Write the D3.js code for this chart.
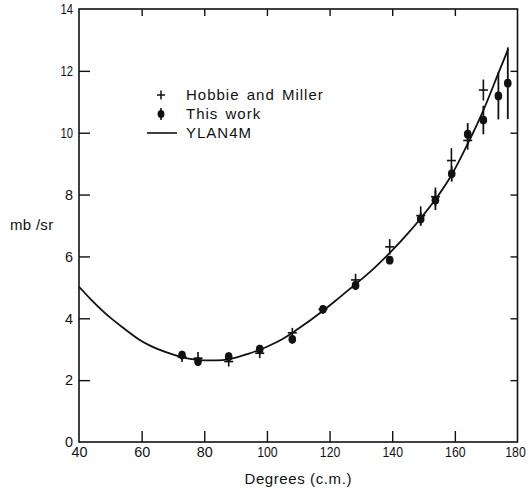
<!DOCTYPE html>
<html>
<head>
<meta charset="utf-8">
<script src="https://cdn.jsdelivr.net/npm/d3@7/dist/d3.min.js"></script>
<style>
  html, body { margin: 0; padding: 0; background: #fff; }
  svg { display: block; }
  text { font-family: "Liberation Sans", Arial, sans-serif; fill: #111; }
</style>
</head>
<body>
<svg id="chart" width="528" height="491"></svg>
<script>
// Differential cross section vs. c.m. angle
const xTicks = [40, 60, 80, 100, 120, 140, 160, 180];
const yTicks = [0, 2, 4, 6, 8, 10, 12, 14];

// This work (filled points with error bars)
const workAngle = [72.9, 78.0, 87.8, 97.7, 108.1, 117.9, 128.3, 139.2, 149.1, 153.8, 159.0, 164.1, 169.1, 173.9, 176.9];
const workValue = [2.81, 2.60, 2.76, 3.00, 3.32, 4.29, 5.06, 5.88, 7.21, 7.82, 8.67, 9.95, 10.41, 11.19, 11.60];
const workError = [0.14, 0.14, 0.14, 0.14, 0.14, 0.12, 0.15, 0.12, 0.22, 0.32, 0.25, 0.36, 0.46, 0.76, 1.16];

// Hobbie and Miller (crosses with error bars)
const hmAngle = [72.9, 78.0, 87.8, 97.7, 108.1, 117.9, 128.3, 139.2, 149.1, 153.8, 158.9, 164.1, 169.1];
const hmValue = [2.75, 2.71, 2.60, 2.87, 3.53, 4.29, 5.24, 6.31, 7.32, 7.93, 9.10, 9.75, 11.38];
const hmError = [0.16, 0.2, 0.16, 0.16, 0.16, 0.14, 0.2, 0.25, 0.3, 0.3, 0.4, 0.3, 0.34];

// YLAN4M calculation
const curveAngle = [40, 44, 50, 54, 59.4, 63, 68, 72, 76, 80, 84, 88, 94, 100, 105, 110, 118, 123, 128.5, 134, 139, 145.5, 149, 154, 159, 164, 169, 174, 177];
const curveValue = [5.02, 4.59, 4.02, 3.70, 3.30, 3.10, 2.90, 2.77, 2.68, 2.64, 2.64, 2.68, 2.85, 3.08, 3.33, 3.66, 4.25, 4.66, 5.12, 5.60, 6.09, 6.80, 7.22, 7.87, 8.64, 9.62, 10.70, 11.95, 12.70];

const legendLabels = ["Hobbie and Miller", "This work", "YLAN4M"];

const svg = d3.select("#chart");
const ink = "#111";

const x = d3.scaleLinear().domain([40, 180]).range([79, 517.5]);
const y = d3.scaleLinear().domain([0, 14]).range([442, 9]);

// frame
svg.append("rect")
  .attr("x", x(40)).attr("y", y(14))
  .attr("width", x(180) - x(40)).attr("height", y(0) - y(14))
  .attr("fill", "none").attr("stroke", ink).attr("stroke-width", 1.6);

// tick numerals are set with a narrow "1"
const numeralWidth = s => String(s).split("").reduce((w, c) => w + (c === "1" ? 4.5 : 8), 0);

function styleAxis(g) {
  g.select(".domain").remove();
  g.selectAll(".tick line").attr("stroke", ink).attr("stroke-width", 1.4);
  g.selectAll(".tick text")
    .attr("fill", ink).style("font-size", "15px")
    .attr("textLength", d => numeralWidth(d))
    .attr("lengthAdjust", "spacingAndGlyphs");
}

svg.append("g")
  .attr("transform", `translate(0,${y(0)})`)
  .call(d3.axisBottom(x).tickValues(xTicks).tickFormat(d3.format("d")).tickSizeInner(-11).tickSizeOuter(0).tickPadding(4))
  .call(styleAxis)
  .call(g => g.selectAll(".tick line").filter(d => d === 40 || d === 180).remove())
  .call(g => g.selectAll(".tick text").filter(d => d === 180).attr("dx", -2.5));

svg.append("g")
  .attr("transform", `translate(${x(40)},0)`)
  .call(d3.axisLeft(y).tickValues(yTicks).tickFormat(d3.format("d")).tickSizeInner(-11).tickSizeOuter(0).tickPadding(6))
  .call(styleAxis)
  .call(g => g.selectAll(".tick line").filter(d => d === 0 || d === 14).remove());

svg.append("g")
  .attr("transform", `translate(0,${y(14)})`)
  .call(d3.axisTop(x).tickValues(xTicks.slice(1, -1)).tickFormat("").tickSizeInner(-7).tickSizeOuter(0))
  .call(styleAxis);

svg.append("g")
  .attr("transform", `translate(${x(180)},0)`)
  .call(d3.axisRight(y).tickValues(yTicks.slice(1, -1)).tickFormat("").tickSizeInner(-7).tickSizeOuter(0))
  .call(styleAxis);

// axis titles
svg.append("text")
  .attr("x", (x(40) + x(180)) / 2).attr("y", 484)
  .attr("text-anchor", "middle")
  .style("font-size", "15px").style("letter-spacing", "0.6px")
  .text("Degrees (c.m.)");

svg.append("text")
  .attr("x", 10).attr("y", 230)
  .style("font-size", "15px").style("letter-spacing", "0.3px")
  .text("mb /sr");

// calculated curve
const line = d3.line()
  .x((d, i) => x(curveAngle[i]))
  .y(d => y(d))
  .curve(d3.curveMonotoneX);

svg.append("path")
  .datum(curveValue)
  .attr("d", line)
  .attr("fill", "none").attr("stroke", ink).attr("stroke-width", 1.8);

// Hobbie and Miller crosses
const hm = svg.append("g").selectAll("g")
  .data(hmValue.map((v, i) => ({ a: hmAngle[i], v, e: hmError[i] })))
  .join("g");
hm.append("line")
  .attr("x1", d => x(d.a)).attr("x2", d => x(d.a))
  .attr("y1", d => y(d.v + d.e)).attr("y2", d => y(d.v - d.e))
  .attr("stroke", ink).attr("stroke-width", 1.6);
hm.append("line")
  .attr("x1", d => x(d.a) - 4.5).attr("x2", d => x(d.a) + 4.5)
  .attr("y1", d => y(d.v)).attr("y2", d => y(d.v))
  .attr("stroke", ink).attr("stroke-width", 1.6);

// This work points
const tw = svg.append("g").selectAll("g")
  .data(workValue.map((v, i) => ({ a: workAngle[i], v, e: workError[i] })))
  .join("g");
tw.append("line")
  .attr("x1", d => x(d.a)).attr("x2", d => x(d.a))
  .attr("y1", d => y(d.v + d.e)).attr("y2", d => y(d.v - d.e))
  .attr("stroke", ink).attr("stroke-width", 1.8);
tw.append("ellipse")
  .attr("cx", d => x(d.a)).attr("cy", d => y(d.v))
  .attr("rx", 3.8).attr("ry", 4.4)
  .attr("fill", ink);

// legend
const lg = svg.append("g");
const lx = 161, ly = [95, 114, 133];
// cross
lg.append("line").attr("x1", lx).attr("x2", lx).attr("y1", ly[0] - 4.5).attr("y2", ly[0] + 4.5)
  .attr("stroke", ink).attr("stroke-width", 1.5);
lg.append("line").attr("x1", lx - 4).attr("x2", lx + 4).attr("y1", ly[0]).attr("y2", ly[0])
  .attr("stroke", ink).attr("stroke-width", 1.5);
// point
lg.append("line").attr("x1", lx).attr("x2", lx).attr("y1", ly[1] - 6).attr("y2", ly[1] + 6)
  .attr("stroke", ink).attr("stroke-width", 1.6);
lg.append("ellipse").attr("cx", lx).attr("cy", ly[1]).attr("rx", 3.4).attr("ry", 4).attr("fill", ink);
// line
lg.append("line").attr("x1", 147).attr("x2", 177).attr("y1", ly[2]).attr("y2", ly[2])
  .attr("stroke", ink).attr("stroke-width", 1.6);

lg.selectAll("text")
  .data(legendLabels)
  .join("text")
  .attr("x", 186).attr("y", (d, i) => ly[i] + 5)
  .style("font-size", "15px").style("letter-spacing", "1px").style("word-spacing", "2px")
  .text(d => d);
</script>
</body>
</html>
